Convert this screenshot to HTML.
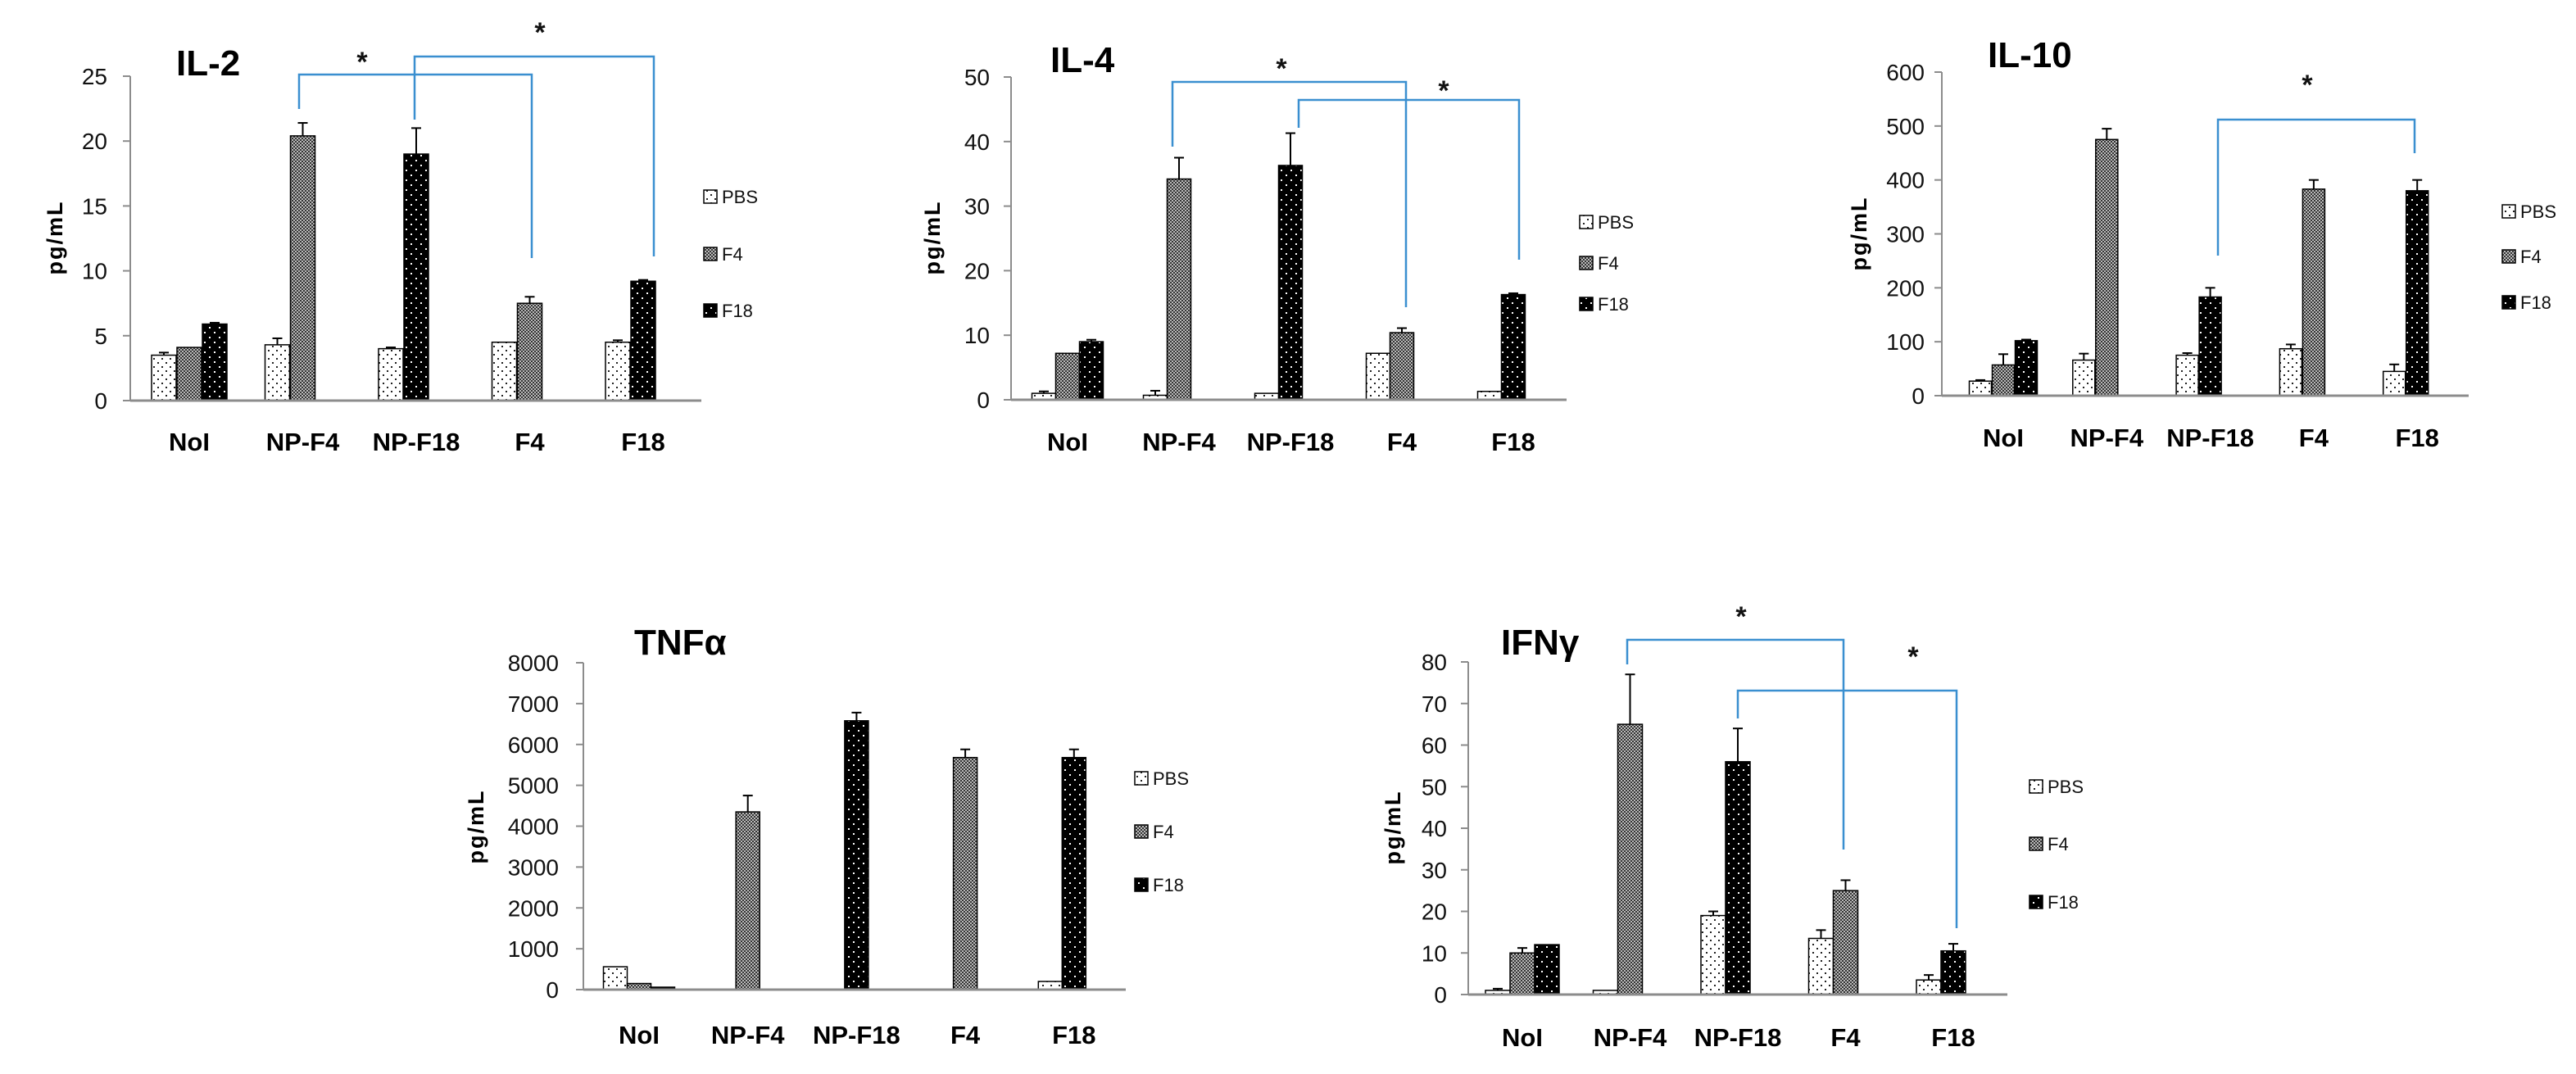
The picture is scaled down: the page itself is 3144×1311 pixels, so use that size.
<!DOCTYPE html>
<html><head><meta charset="utf-8">
<style>
html,body{margin:0;padding:0;background:#fff;}
svg{display:block;}
text{font-family:"Liberation Sans",sans-serif;}
</style></head>
<body>
<svg id="fig" width="3144" height="1311" viewBox="0 0 3144 1311" xmlns="http://www.w3.org/2000/svg">
<defs>
<pattern id="pPBS" width="10" height="10" patternUnits="userSpaceOnUse">
<rect width="10" height="10" fill="#fff"/><rect x="2" y="2" width="2" height="2" fill="#222"/><rect x="7" y="7" width="2" height="2" fill="#222"/>
</pattern>
<pattern id="pF4" width="4" height="4" patternUnits="userSpaceOnUse">
<rect width="4" height="4" fill="#bbb"/><rect width="2" height="2" fill="#333"/><rect x="2" y="2" width="2" height="2" fill="#333"/>
</pattern>
<pattern id="pF18" width="12" height="12" patternUnits="userSpaceOnUse">
<rect width="12" height="12" fill="#000"/><rect x="3" y="3" width="2" height="2" fill="#fff"/><rect x="9" y="9" width="2" height="2" fill="#fff"/>
</pattern>
</defs>
</svg>
<script>
// ---- data ----
const categories = ["NoI","NP-F4","NP-F18","F4","F18"];
const seriesNames = ["PBS","F4","F18"];

const il2_pbs = [3.5, 4.3, 4.0, 4.5, 4.5];
const il2_f4  = [4.1, 20.4, null, 7.5, null];
const il2_f18 = [5.9, null, 19.0, null, 9.2];
const il2_pbs_err = [0.2, 0.5, 0.1, 0, 0.15];
const il2_f4_err  = [0, 1.0, 0, 0.5, 0];
const il2_f18_err = [0.1, 0, 2.0, 0, 0.1];
const il2_ticks = [0,5,10,15,20,25];

const il4_pbs = [1.0, 0.7, 1.0, 7.2, 1.3];
const il4_f4  = [7.2, 34.2, null, 10.4, null];
const il4_f18 = [9.0, null, 36.3, null, 16.3];
const il4_pbs_err = [0.3, 0.7, 0, 0, 0];
const il4_f4_err  = [0, 3.3, 0, 0.7, 0];
const il4_f18_err = [0.3, 0, 5.0, 0, 0.2];
const il4_ticks = [0,10,20,30,40,50];

const il10_pbs = [27, 66, 75, 87, 45];
const il10_f4  = [57, 475, null, 383, null];
const il10_f18 = [102, null, 183, null, 380];
const il10_pbs_err = [2, 12, 4, 8, 13];
const il10_f4_err  = [20, 20, 0, 17, 0];
const il10_f18_err = [2, 0, 17, 0, 20];
const il10_ticks = [0,100,200,300,400,500,600];

const tnf_pbs = [560, null, null, null, 200];
const tnf_f4  = [150, 4350, null, 5680, null];
const tnf_f18 = [60, null, 6580, null, 5680];
const tnf_pbs_err = [0, 0, 0, 0, 0];
const tnf_f4_err  = [0, 400, 0, 200, 0];
const tnf_f18_err = [0, 0, 200, 0, 200];
const tnf_ticks = [0,1000,2000,3000,4000,5000,6000,7000,8000];

const ifn_pbs = [1.0, 1.0, 19.0, 13.5, 3.5];
const ifn_f4  = [10.0, 65.0, null, 25.0, null];
const ifn_f18 = [12.0, null, 56.0, null, 10.5];
const ifn_pbs_err = [0.4, 0, 1.0, 2.0, 1.2];
const ifn_f4_err  = [1.2, 12.0, 0, 2.5, 0];
const ifn_f18_err = [0, 0, 8.0, 0, 1.7];
const ifn_ticks = [0,10,20,30,40,50,60,70,80];

// ---- layout ----
const NS = "http://www.w3.org/2000/svg";
const svg = document.getElementById("fig");
function mk(tag, attrs, parent) {
  const e = document.createElementNS(NS, tag);
  for (const k in attrs) e.setAttribute(k, attrs[k]);
  (parent || svg).appendChild(e);
  return e;
}
const fills = ["url(#pPBS)","url(#pF4)","url(#pF18)"];
const BLUE = "#3a8fd0";

const charts = [
 {id:"il2", title:"IL-2", data:[il2_pbs,il2_f4,il2_f18], err:[il2_pbs_err,il2_f4_err,il2_f18_err], ticks:il2_ticks,
  ax:159, y0:489, yT:93, xEnd:856, c0:231, cs:138.5, bw:30, ss:31, tx:215, ty:92, lx:859, ly:[240,310,379], ytx:67, yty:290, catY:550, tickR:131,
  brackets:[[365,649,91,133,315,442,73],[506,798,69,146,313,659,37]]},
 {id:"il4", title:"IL-4", data:[il4_pbs,il4_f4,il4_f18], err:[il4_pbs_err,il4_f4_err,il4_f18_err], ticks:il4_ticks,
  ax:1234, y0:488, yT:94, xEnd:1912, c0:1303, cs:136, bw:29, ss:29, tx:1282, ty:88, lx:1928, ly:[271,321,371], ytx:1138, yty:290, catY:550, tickR:1208,
  brackets:[[1431,1716,100,179,375,1564,81],[1585,1854,122,156,317,1762,108]]},
 {id:"il10", title:"IL-10", data:[il10_pbs,il10_f4,il10_f18], err:[il10_pbs_err,il10_f4_err,il10_f18_err], ticks:il10_ticks,
  ax:2370, y0:483, yT:88, xEnd:3013, c0:2445, cs:126.3, bw:27, ss:28, tx:2426, ty:82, lx:3054, ly:[258,313,369], ytx:2269, yty:285, catY:545, tickR:2349,
  brackets:[[2707,2947,146,312,187,2816,101]]},
 {id:"tnf", title:"TNFα", data:[tnf_pbs,tnf_f4,tnf_f18], err:[tnf_pbs_err,tnf_f4_err,tnf_f18_err], ticks:tnf_ticks,
  ax:712, y0:1208, yT:809, xEnd:1374, c0:780, cs:132.7, bw:29, ss:29, tx:774, ty:799, lx:1385, ly:[950,1015,1080], ytx:581, yty:1009, catY:1274, tickR:682,
  brackets:[]},
 {id:"ifn", title:"IFNγ", data:[ifn_pbs,ifn_f4,ifn_f18], err:[ifn_pbs_err,ifn_f4_err,ifn_f18_err], ticks:ifn_ticks,
  ax:1792, y0:1214, yT:808, xEnd:2450, c0:1858, cs:131.5, bw:30, ss:30, tx:1832, ty:799, lx:2477, ly:[960,1030,1101], ytx:1700, yty:1010, catY:1277, tickR:1766,
  brackets:[[1986,2250,781,811,1037,2125,750],[2121,2388,843,877,1133,2335,799]]}
];

charts.forEach(c => {
  const g = mk("g", {});
  
  
  const maxV = c.ticks[c.ticks.length-1];
  const yS = v => c.y0 - (v / maxV) * (c.y0 - c.yT);
  const xS = i => c.c0 + i * c.cs;

  const t = mk("text", {x:c.tx, y:c.ty, "font-size":44, "font-weight":"bold", fill:"#000"}, g);
  t.textContent = c.title;
  
  

  const ya = mk("line", {x1:c.ax, y1:c.yT, x2:c.ax, y2:c.y0, stroke:"#8c8c8c", "stroke-width":2}, g);
  
  
  c.ticks.forEach(v => {
    const y = yS(v);
    mk("line", {x1:c.ax-9, y1:y, x2:c.ax, y2:y, stroke:"#8c8c8c", "stroke-width":2}, g);
    const tl = mk("text", {x:c.tickR, y:y+10, "font-size":28, "text-anchor":"end", fill:"#111"}, g);
    tl.textContent = v;
    
    
  });
  const yt = mk("text", {x:0, y:0, "font-size":27, "font-weight":"bold", "text-anchor":"middle", "letter-spacing":2,
    transform:`translate(${c.ytx+9},${c.yty}) rotate(-90)`, fill:"#000"}, g);
  yt.textContent = "pg/mL";
  
  

  categories.forEach((cat, i) => {
    const present = [0,1,2].filter(s => c.data[s][i] !== null && c.data[s][i] !== undefined);
    const base = present.includes(0) ? -1 : 0;
    present.forEach((s, k) => {
      const v = c.data[s][i];
      const cx = xS(i) + (base + k) * c.ss;
      const y = yS(v);
      const r = mk("rect", {x:cx - c.bw/2, y:y, width:c.bw, height:Math.max(0, c.y0 - y), fill:fills[s], stroke:"#000", "stroke-width":1.5}, g);
      
      
      const e = c.err[s][i];
      if (e > 0) {
        const ye = yS(v + e);
        mk("line", {x1:cx, y1:y, x2:cx, y2:ye, stroke:"#000", "stroke-width":2}, g);
        mk("line", {x1:cx-6, y1:ye, x2:cx+6, y2:ye, stroke:"#000", "stroke-width":2}, g);
      }
    });
    const cl = mk("text", {x:xS(i), y:c.catY, "font-size":31, "font-weight":"bold", "text-anchor":"middle", fill:"#000"}, g);
    cl.textContent = cat;
    
    
  });

  const xa = mk("line", {x1:c.ax, y1:c.y0, x2:c.xEnd, y2:c.y0, stroke:"#8c8c8c", "stroke-width":3}, g);
  
  

  seriesNames.forEach((n, s) => {
    const ly = c.ly[s];
    const sq = mk("rect", {x:c.lx, y:ly-8, width:16, height:16, fill:fills[s], stroke:"#000", "stroke-width":1.5}, g);
    
    
    const lt = mk("text", {x:c.lx+22, y:ly+8, "font-size":22, fill:"#111"}, g);
    lt.textContent = n;
    
    
  });

  c.brackets.forEach(b => {
    const p = mk("polyline", {points:`${b[0]},${b[3]} ${b[0]},${b[2]} ${b[1]},${b[2]} ${b[1]},${b[4]}`, fill:"none", stroke:BLUE, "stroke-width":2.5}, g);
    
    
    const st = mk("text", {x:b[5], y:b[6]+14, "font-size":34, "font-weight":"bold", "text-anchor":"middle", fill:"#111"}, g);
    st.textContent = "*";
    
    
  });
});
</script>
</body></html>
